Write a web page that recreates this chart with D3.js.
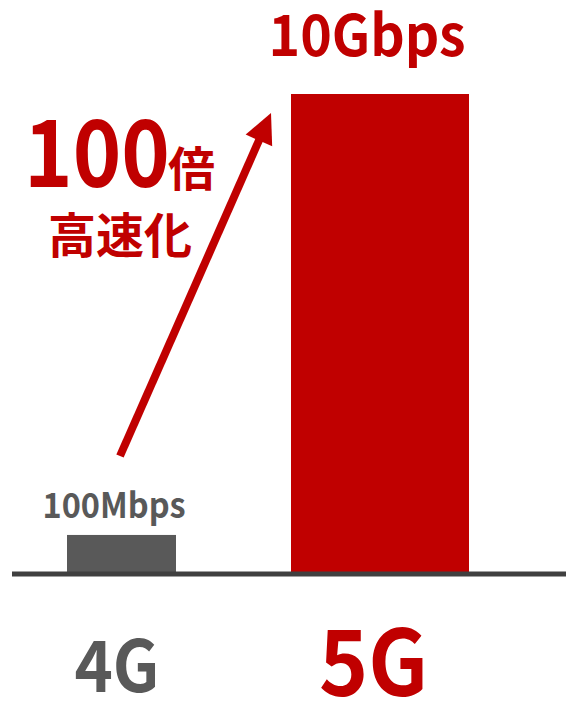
<!DOCTYPE html>
<html>
<head>
<meta charset="utf-8">
<script src="https://cdn.jsdelivr.net/npm/d3@7"></script>
<style>
  body { margin: 0; background: #fff; }
  text { font-family: "Noto Sans CJK JP", "Noto Sans", sans-serif; font-weight: bold; }
</style>
</head>
<body>
<svg id="chart"></svg>
<script>
// chart data
const categories = ['4G', '5G'];
const speedsMbps = [100, 10000];
const valueLabels = ['100Mbps', '10Gbps'];
const ratioLabel = '100';
const ratioUnit = '倍';
const ratioCaption = '高速化';

const W = 566, H = 701;
const BASE_Y = 573;
const RED = '#c00000', GRAY = '#595959';
const barColors = [GRAY, RED];
const barWidths = [109, 178];

const svg = d3.select('#chart').attr('width', W).attr('height', H);

// bar centres along the axis
const x = d3.scalePoint().domain(categories).range([121.5, 380]);

// heights are not linear in the original, a pow scale gets close
const y = d3.scalePow().exponent(0.55).domain([0, 10000]).range([BASE_Y, 94]);

svg.selectAll('rect.bar')
  .data(categories)
  .enter()
  .append('rect')
  .attr('class', 'bar')
  .attr('x', (d, i) => x(d) - barWidths[i] / 2)
  .attr('y', (d, i) => y(speedsMbps[i]))
  .attr('width', (d, i) => barWidths[i])
  .attr('height', (d, i) => BASE_Y - y(speedsMbps[i]))
  .attr('fill', (d, i) => barColors[i]);

// baseline
svg.append('line')
  .attr('x1', 12).attr('x2', W)
  .attr('y1', BASE_Y + 1).attr('y2', BASE_Y + 1)
  .attr('stroke', '#404040').attr('stroke-width', 5);

// value labels above bars (the original font is a bit narrower, so squeeze)
const valSizes = [35, 57];
const valLens = [143, 197];
const valShift = [-7.5, -13];
svg.selectAll('text.val')
  .data(valueLabels)
  .enter()
  .append('text')
  .attr('class', 'val')
  .attr('x', (d, i) => x(categories[i]) + valShift[i])
  .attr('y', (d, i) => i === 0 ? y(speedsMbps[i]) - 17 : 56)
  .attr('text-anchor', 'middle')
  .attr('font-size', (d, i) => valSizes[i])
  .attr('textLength', (d, i) => valLens[i])
  .attr('lengthAdjust', 'spacingAndGlyphs')
  .attr('fill', (d, i) => barColors[i])
  .text(d => d);

// category labels under the axis
const catSizes = [71, 91];
const catLens = [85, 109];
const catBaselines = [692, 696];
const catShift = [-4.5, -6.5];
svg.selectAll('text.cat')
  .data(categories)
  .enter()
  .append('text')
  .attr('class', 'cat')
  .attr('x', (d, i) => x(d) + catShift[i])
  .attr('y', (d, i) => catBaselines[i])
  .attr('text-anchor', 'middle')
  .attr('font-size', (d, i) => catSizes[i])
  .attr('textLength', (d, i) => catLens[i])
  .attr('lengthAdjust', 'spacingAndGlyphs')
  .attr('fill', (d, i) => barColors[i])
  .text(d => d);

// arrow from the small bar to the big bar
const tail = [120, 456], tip = [271, 113];
const ang = Math.atan2(tip[1] - tail[1], tip[0] - tail[0]);
const headLen = 30, headHalf = 14.5;
const ux = Math.cos(ang), uy = Math.sin(ang);
const bx = tip[0] - ux * headLen, by = tip[1] - uy * headLen;
svg.append('line')
  .attr('x1', tail[0]).attr('y1', tail[1])
  .attr('x2', bx + ux * 2).attr('y2', by + uy * 2)
  .attr('stroke', RED).attr('stroke-width', 8);
svg.append('path')
  .attr('d', d3.line()([
    tip,
    [bx - uy * headHalf, by + ux * headHalf],
    [bx + uy * headHalf, by - ux * headHalf]
  ]) + 'Z')
  .attr('fill', RED);

// "100倍 高速化" annotation
svg.append('text')
  .attr('x', 24).attr('y', 187)
  .attr('font-size', 93)
  .attr('textLength', 146)
  .attr('lengthAdjust', 'spacingAndGlyphs')
  .attr('fill', RED)
  .text(ratioLabel);
svg.append('text')
  .attr('x', 168).attr('y', 186)
  .attr('font-size', 47)
  .attr('fill', RED)
  .text(ratioUnit);
svg.append('text')
  .attr('x', 48).attr('y', 253)
  .attr('font-size', 48)
  .attr('fill', RED)
  .text(ratioCaption);
</script>
</body>
</html>
